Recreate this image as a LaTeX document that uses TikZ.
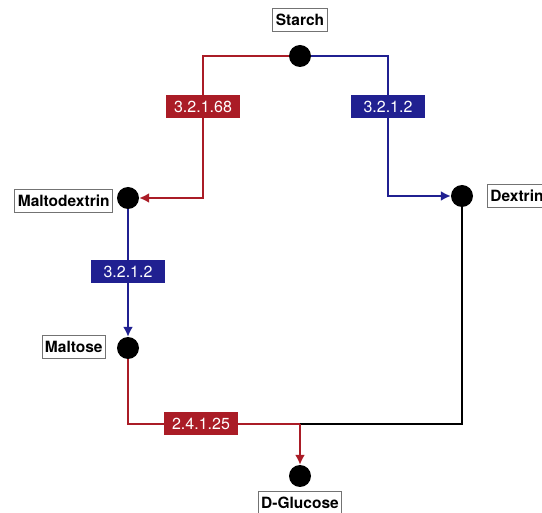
\documentclass[tikz,border=0pt]{standalone}
\usepackage{fontspec}
\setmainfont{TeX Gyre Heros}
\usetikzlibrary{arrows.meta}
\definecolor{enzred}{RGB}{170,28,38}
\definecolor{enzblue}{RGB}{32,32,145}
\tikzstyle{vertex}=[circle,fill=black,minimum size=22pt,inner sep=0pt]
\tikzstyle{compound}=[draw=black!55,fill=white,line width=0.9pt,font=\bfseries\fontsize{15.5}{15.5}\selectfont,inner sep=3pt,minimum height=23pt]
\tikzstyle{enzyme}=[text=white,font=\fontsize{16}{16}\selectfont,minimum width=74pt,minimum height=23pt,inner sep=0pt]
\tikzstyle{reaction}=[draw,line width=2.4pt,-{Latex[length=10pt,width=10pt]}]
\tikzstyle{plain reaction}=[draw,line width=2.4pt,-]

\begin{document}
\begin{tikzpicture}[x=1pt,y=-1pt]
    \useasboundingbox (0,0) rectangle (542,513);
    % sommet
    \foreach \pos/\name in {{(300,56)/starch}, {(128,198)/maltodextrin}, {(462,196)/dextrin}, {(128,348)/maltose}, {(300,476)/glucose}}
        \node[vertex] (\name) at \pos {};
    % noms
    \node[compound] (starchlbl) at (300,20) {Starch};
    \node[compound,anchor=east] (maltodextrinlbl) at (113,201) {Maltodextrin};
    \node[compound,anchor=west] (dextrinlbl) at (487,196) {Dextrin};
    \node[compound,anchor=east] (maltoselbl) at (106,347) {Maltose};
    \node[compound,anchor=north] (glucoselbl) at (300,491) {D-Glucose};
    % coins
    \coordinate (redcorner) at (203,56);
    \coordinate (bluecorner) at (388,56);
    \coordinate (join) at (300,424);
    % arete
    \path[reaction,enzred] (starch) -- (redcorner) |- (maltodextrin);
    \path[reaction,enzblue] (starch) -- (bluecorner) |- (dextrin);
    \path[reaction,enzblue] (maltodextrin) -- (maltose);
    \path[plain reaction,enzred] (maltose) |- (join);
    \path[plain reaction] (dextrin) |- (join);
    \path[reaction,enzred] (join) -- (glucose);
    % enzymes
    \foreach \pos/\col/\name/\ec in {{(203,107)/enzred/amylo/3.2.1.68}, {(388,107)/enzblue/amylotop/3.2.1.2}, {(128,272)/enzblue/amylobot/3.2.1.2}, {(201,424)/enzred/glucano/2.4.1.25}}
        \node[enzyme,fill=\col] (\name) at \pos {\ec};
\end{tikzpicture}
\end{document}
